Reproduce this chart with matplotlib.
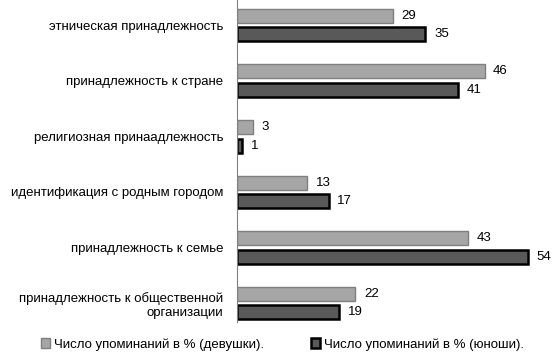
import numpy as np
import matplotlib.pyplot as plt

plt.rcParams['font.family'] = ['Liberation Sans', 'DejaVu Sans']

categories = ['этническая принадлежность', 'принадлежность к стране',
              'религиозная принаадлежность', 'идентификация с родным городом',
              'принадлежность к семье', 'принадлежность к общественной\nорганизации']
girls = [29, 46, 3, 13, 43, 22]
boys = [35, 41, 1, 17, 54, 19]
girls_label = 'Число упоминаний в % (девушки).'
boys_label = 'Число упоминаний в % (юноши).'

fig = plt.figure(figsize=(5.54, 3.59), dpi=100)
ax = fig.add_axes([0.428, 0.103, 0.565, 0.897])

y = np.arange(len(categories))
h = 0.25
off = 0.167
ax.barh(y - off, girls, height=h, color='#a6a6a6', edgecolor='#7f7f7f', linewidth=1,
        label=girls_label)
ax.barh(y + off, boys, height=h, color='#595959', edgecolor='black', linewidth=1.8,
        label=boys_label)

for i in range(len(categories)):
    ax.text(girls[i] + 1.6, y[i] - off, str(girls[i]), va='center', ha='left', fontsize=9.5)
    ax.text(boys[i] + 1.6, y[i] + off, str(boys[i]), va='center', ha='left', fontsize=9.5)

ax.set_xlim(0, 58.2)
ax.set_ylim(5.34, -0.45)
ax.set_yticks(y)
ax.set_yticklabels(categories, fontsize=9.5)
ax.tick_params(axis='y', length=0, pad=10)
ax.set_xticks([])
for s in ['top', 'right', 'bottom']:
    ax.spines[s].set_visible(False)
ax.spines['left'].set_color('#808080')

handles, labels = ax.get_legend_handles_labels()
fig.legend(handles, labels, loc='lower center', bbox_to_anchor=(0.51, -0.01), ncol=2,
           frameon=False, fontsize=9.5, handlelength=0.7, handleheight=0.7,
           handletextpad=0.3, columnspacing=3.5)

fig.savefig('out.png', dpi=100)
